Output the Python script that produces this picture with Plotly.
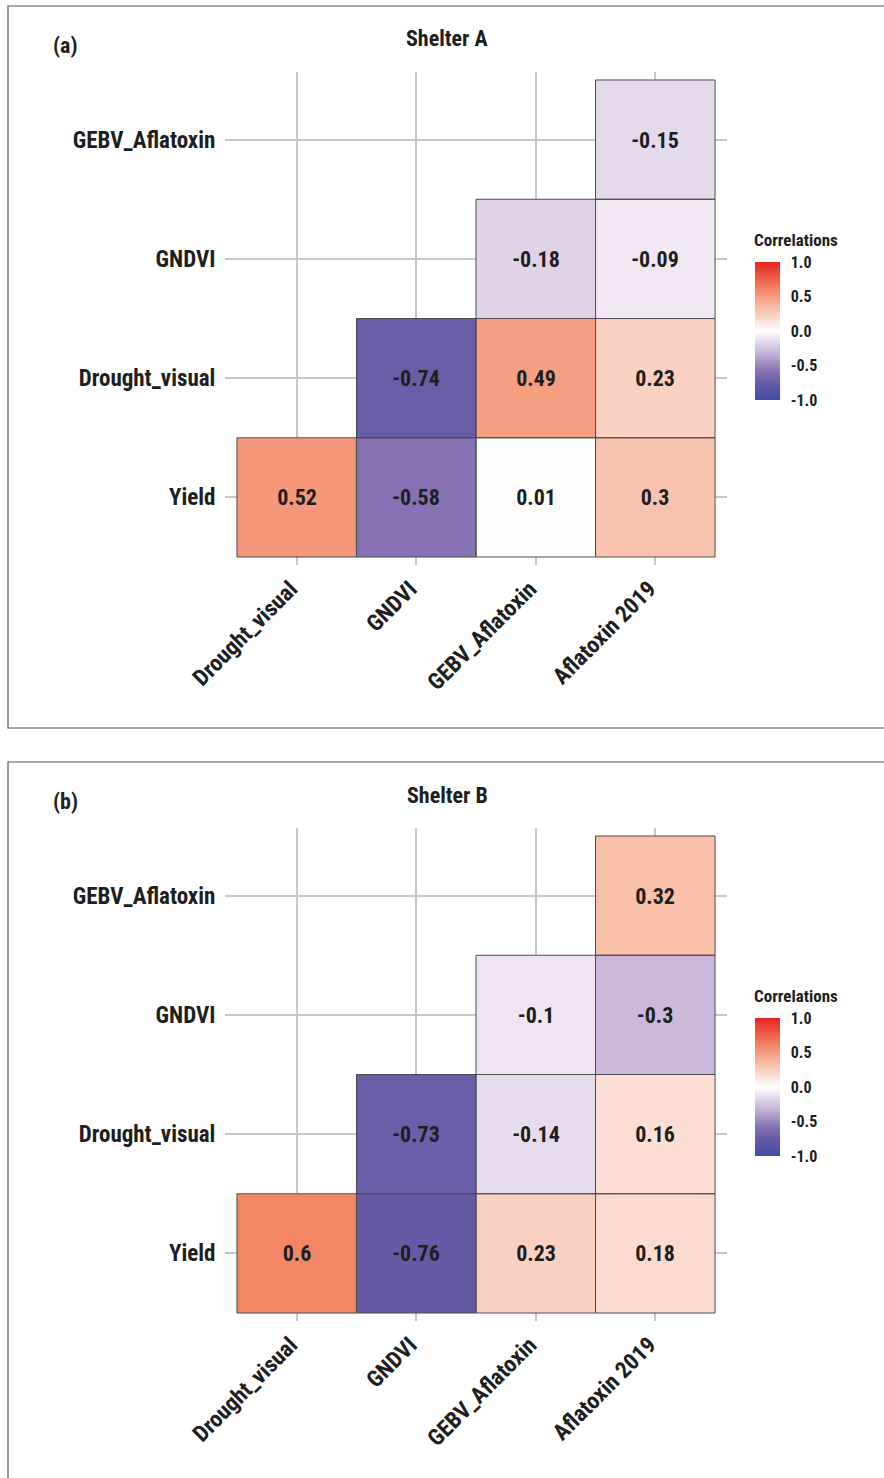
import plotly.graph_objects as go

W, H = 884, 1478

# Correlation matrices (lower triangle only)
cols = ["Drought_visual", "GNDVI", "GEBV_Aflatoxin", "Aflatoxin 2019"]
rows = ["Yield", "Drought_visual", "GNDVI", "GEBV_Aflatoxin"]

shelter_a = [
    [0.52, -0.58, 0.01, 0.30],
    [None, -0.74, 0.49, 0.23],
    [None, None, -0.18, -0.09],
    [None, None, None, -0.15],
]
shelter_b = [
    [0.60, -0.76, 0.23, 0.18],
    [None, -0.73, -0.14, 0.16],
    [None, None, -0.10, -0.30],
    [None, None, None, 0.32],
]

panel_titles = ["Shelter A", "Shelter B"]
panel_tags = ["(a)", "(b)"]
cbar_ticks = [-1.0, -0.5, 0.0, 0.5, 1.0]
cbar_labels = ["-1.0", "-0.5", "0.0", "0.5", "1.0"]

FONT = "Roboto Condensed, Liberation Sans, Arial, sans-serif"
INK = "#1e1e1e"

# blue - white - red gradient (value -> colour)
grad = [
    (-1.00, "#3d4ea3"),
    (-0.76, "#665aa6"),
    (-0.58, "#8672b3"),
    (-0.30, "#cbb8da"),
    (-0.15, "#e5daec"),
    (-0.10, "#efe5f2"),
    (0.00, "#ffffff"),
    (0.16, "#fcded4"),
    (0.23, "#fad0c1"),
    (0.32, "#f8bfa9"),
    (0.50, "#f59c80"),
    (0.60, "#f48565"),
    (1.00, "#e8221f"),
]
colorscale = [[(v + 1) / 2, c] for v, c in grad]


def py(px):
    return 1 - px / H


def px_x(px):
    return px / W


fig = go.Figure()

# pixel layout of each panel: frame top, grid top/bottom, colour bar top
panels = [
    dict(top=6, gtop=72, gbot=565, cbtop=262, data=shelter_a),
    dict(top=762, gtop=828, gbot=1321, cbtop=1018, data=shelter_b),
]
CB_LEFT, CB_W, CB_LEN = 755, 25, 138

shapes = []
annotations = []

for k, p in enumerate(panels):
    xa = "x" if k == 0 else "x2"
    ya = "y" if k == 0 else "y2"
    z = p["data"]
    text = [["" if v is None else f"{v:g}" for v in r] for r in z]
    fig.add_trace(go.Heatmap(
        x=cols, y=rows, z=z, text=text,
        texttemplate="%{text}",
        textfont=dict(family=FONT, size=22, color=INK, weight="bold"),
        colorscale=colorscale, zmin=-1, zmax=1,
        xaxis=xa, yaxis=ya, hoverongaps=False,
        colorbar=dict(
            x=px_x(CB_LEFT), xanchor="left", xpad=0, ypad=0,
            y=py(p["cbtop"]), yanchor="top",
            lenmode="pixels", len=CB_LEN,
            thicknessmode="pixels", thickness=CB_W,
            outlinewidth=0,
            tickvals=cbar_ticks, ticktext=cbar_labels,
            ticks="outside", ticklen=8, tickcolor="rgba(0,0,0,0)",
            tickfont=dict(family=FONT, size=16, color=INK, weight="bold"),
        ),
    ))
    # tile outlines
    for i, r in enumerate(z):
        for j, v in enumerate(r):
            if v is None:
                continue
            shapes.append(dict(
                type="rect", xref=xa, yref=ya,
                x0=j - 0.5, x1=j + 0.5, y0=i - 0.5, y1=i + 0.5,
                line=dict(color="#4d4d4d", width=1), layer="above",
            ))
    # white notches on both edges of the colour bar
    for v in cbar_ticks[1:-1]:
        yy = py(p["cbtop"] + (1 - v) / 2 * CB_LEN)
        for xs in ((CB_LEFT, CB_LEFT + 5), (CB_LEFT + CB_W - 5, CB_LEFT + CB_W)):
            shapes.append(dict(
                type="line", xref="paper", yref="paper",
                x0=px_x(xs[0]), x1=px_x(xs[1]), y0=yy, y1=yy,
                line=dict(color="white", width=1.5),
            ))
    # panel frame
    shapes.append(dict(
        type="rect", xref="paper", yref="paper",
        x0=px_x(8), x1=px_x(W + 5), y0=py(p["top"] + 722), y1=py(p["top"]),
        line=dict(color="#555555", width=1.2), fillcolor="rgba(0,0,0,0)",
    ))
    annotations.append(dict(
        text=panel_titles[k], xref="paper", yref="paper",
        x=px_x(447), y=py(p["top"] + 33), xanchor="center", yanchor="middle",
        showarrow=False, font=dict(family=FONT, size=22, color=INK, weight="bold"),
    ))
    annotations.append(dict(
        text=panel_tags[k], xref="paper", yref="paper",
        x=px_x(51), y=py(p["top"] + 39), xanchor="left", yanchor="middle",
        showarrow=False, font=dict(family=FONT, size=22, color=INK, weight="bold"),
    ))
    annotations.append(dict(
        text="Correlations", xref="paper", yref="paper",
        x=px_x(752), y=py(p["cbtop"] - 22), xanchor="left", yanchor="middle",
        showarrow=False, font=dict(family=FONT, size=17, color=INK, weight="bold"),
    ))

    axis_common = dict(
        type="category", showgrid=True, gridcolor="#c8c8c8", gridwidth=1.5,
        zeroline=False, showline=False, automargin=False,
        tickfont=dict(family=FONT, size=23, color=INK, weight="bold"),
    )
    xdom = [px_x(225), px_x(727)]
    ydom = [py(p["gbot"]), py(p["gtop"])]
    xname = "xaxis" if k == 0 else "xaxis2"
    yname = "yaxis" if k == 0 else "yaxis2"
    fig.update_layout({
        xname: dict(axis_common, domain=xdom, range=[-0.6, 3.6],
                    anchor=ya, tickangle=-45, ticks="",
                    ticklabelshift=-6, ticklabelstandoff=5,
                    categoryorder="array", categoryarray=cols),
        yname: dict(axis_common, domain=ydom, range=[-0.567, 3.567],
                    anchor=xa, ticks="outside", ticklen=4,
                    tickcolor="rgba(0,0,0,0)",
                    categoryorder="array", categoryarray=rows),
    })

fig.update_layout(
    width=W, height=H,
    margin=dict(l=0, r=0, t=0, b=0, autoexpand=False),
    paper_bgcolor="white", plot_bgcolor="white",
    shapes=shapes, annotations=annotations,
    showlegend=False,
)

fig.write_html("out.html")
